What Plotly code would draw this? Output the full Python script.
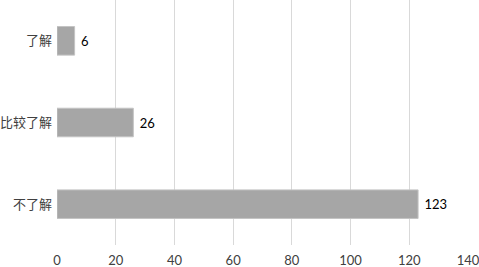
import plotly.graph_objects as go

categories = ["不了解", "比较了解", "了解"]
values = [123, 26, 6]
x_ticks = [0, 20, 40, 60, 80, 100, 120, 140]

fig = go.Figure()
fig.add_trace(go.Bar(
    y=categories, x=values, orientation="h",
    width=0.35,
    marker=dict(color="#a6a6a6", line=dict(color="#c4c4c4", width=1)),
    text=["\u00a0" + str(v) for v in values], textposition="outside",
    textfont=dict(family="Lato, Noto Sans", size=13, color="#000000"),
    cliponaxis=False,
))
fig.update_layout(
    width=479, height=267,
    margin=dict(l=57, r=11, t=0, b=22, autoexpand=False),
    paper_bgcolor="white", plot_bgcolor="white",
    showlegend=False,
    uniformtext=dict(minsize=13, mode="show"),
)
fig.update_xaxes(
    range=[0, 140], tickvals=x_ticks, ticktext=[str(t) for t in x_ticks],
    showgrid=True, gridcolor="#d9d9d9", gridwidth=1,
    zeroline=False, showline=False, ticks="", automargin=False,
    ticklabeloverflow="allow", ticklabelstandoff=6,
    tickfont=dict(family="Lato, Noto Sans", size=13, color="#404040"),
)
fig.update_yaxes(
    categoryorder="array", categoryarray=categories,
    showgrid=False, zeroline=False, showline=False, ticks="", automargin=False,
    ticklabelstandoff=4,
    tickfont=dict(family="Noto Sans CJK SC", size=13, color="#404040"),
)
fig.write_html("out.html", config={"displayModeBar": False},
               post_script="document.body.style.margin='0';document.body.style.overflow='hidden';")
